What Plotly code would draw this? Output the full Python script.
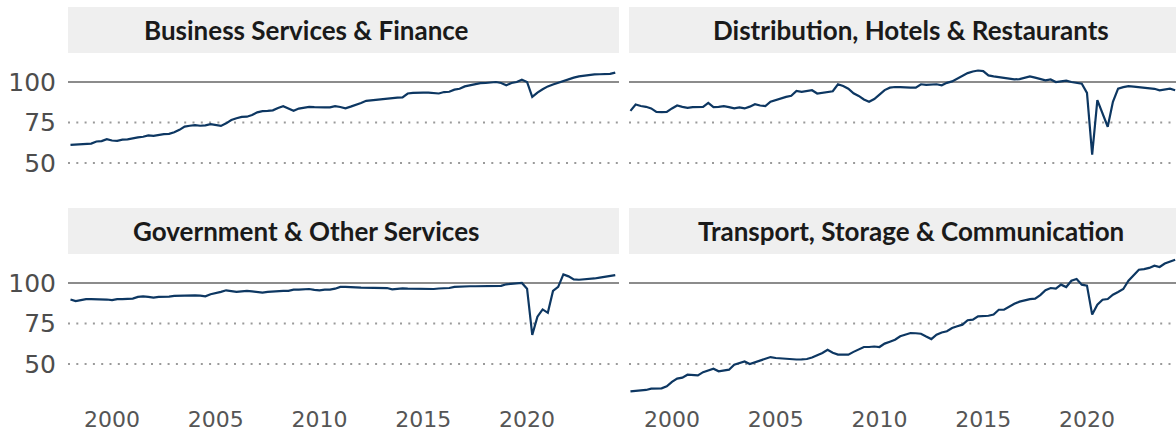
import plotly.graph_objects as go

# quarterly dates 1998Q1 .. 2024Q2 (as decimal years)
start_year = 1998
n_quarters = 106

panel_titles = [
    "Business Services & Finance",
    "Distribution, Hotels & Restaurants",
    "Government & Other Services",
    "Transport, Storage & Communication",
]

business = [
    61.2, 61.4, 61.5, 61.4,
    62.0, 63.3, 63.5, 64.7,
    63.9, 63.7, 64.4, 64.6,
    65.3, 65.8, 66.2, 67.0,
    66.8, 67.4, 67.8, 68.0,
    69.0, 70.5, 72.5, 73.0,
    73.4, 73.0, 73.2, 74.0,
    73.5, 72.9, 74.5, 76.5,
    77.6, 78.5, 78.6, 79.6,
    81.3, 82.0, 82.2, 82.5,
    84.0, 85.1, 83.7, 82.2,
    83.6, 84.3, 84.7, 84.5,
    84.3, 84.3, 84.4, 85.1,
    84.6, 83.8, 84.8, 85.7,
    87.0, 88.4, 88.8, 89.2,
    89.5, 89.8, 90.1, 90.4,
    90.5, 92.9, 93.3, 93.5,
    93.5, 93.4, 93.0, 92.9,
    93.8, 94.0, 95.3, 95.8,
    97.3, 98.0, 99.0, 99.3,
    99.4, 99.6, 100.0, 99.4,
    98.0, 99.4, 100.0, 101.4,
    100.0, 90.8, 93.5, 95.5,
    97.3, 98.5, 99.6, 100.4,
    101.5, 102.7, 103.5, 104.0,
    104.3, 104.7, 104.8, 104.7,
    105.0, 105.8,
]

distribution = [
    82.2, 86.1, 85.2, 84.7,
    83.7, 81.6, 81.4, 81.6,
    83.7, 85.5, 84.7, 84.1,
    84.5, 84.6, 84.7, 87.1,
    84.5, 84.6, 85.1, 84.5,
    83.7, 84.3, 83.7, 84.8,
    86.3, 85.5, 85.1, 87.8,
    88.8, 90.2, 90.8, 91.5,
    94.5, 93.9, 94.3, 94.9,
    92.9, 93.3, 93.5, 94.3,
    98.6, 97.5, 95.9, 93.0,
    91.4, 89.2, 87.8, 89.5,
    92.2, 95.0, 96.5, 96.9,
    96.8, 96.5, 96.5, 96.5,
    98.6, 98.2, 98.4, 98.6,
    98.0, 99.5, 100.4, 102.0,
    103.5, 105.5, 106.5, 107.1,
    106.7, 104.1, 103.5, 103.1,
    102.7, 102.2, 101.6, 101.8,
    102.5, 103.5, 102.7, 102.0,
    101.0, 101.6, 100.0, 100.4,
    100.8, 100.0, 99.6, 99.0,
    93.3, 55.1, 88.8, 80.5,
    72.4, 87.8, 95.9, 96.8,
    97.5, 97.2, 96.9, 96.8,
    96.5, 95.8, 94.9, 95.4,
    95.9, 94.9,
]

government = [
    89.8, 88.8, 89.4, 90.0,
    90.0, 90.0, 89.9, 89.8,
    89.4, 90.0, 90.0, 90.0,
    90.4, 91.4, 91.8, 91.4,
    91.0, 91.4, 91.4, 91.6,
    92.0, 92.2, 92.4, 92.4,
    92.4, 92.2, 91.8, 93.1,
    93.6, 94.5, 95.5, 95.0,
    94.5, 94.8, 95.1, 94.8,
    94.4, 94.1, 94.5, 94.8,
    95.1, 95.1, 95.1, 95.9,
    95.9, 96.2, 96.3, 95.8,
    95.5, 95.9, 95.9, 96.5,
    97.6, 97.6, 97.6, 97.3,
    97.1, 97.1, 97.1, 97.1,
    97.0, 96.9, 96.1, 96.5,
    96.7, 96.5, 96.4, 96.3,
    96.5, 96.4, 96.3, 96.6,
    96.7, 96.9, 97.6, 97.8,
    98.2, 98.0, 98.0, 98.0,
    98.0, 98.2, 98.2, 98.2,
    99.2, 99.6, 99.8, 100.0,
    96.5, 68.0, 79.2, 83.7,
    81.6, 95.1, 97.6, 105.3,
    104.1, 102.2, 102.0, 102.2,
    102.2, 102.8, 103.3, 103.9,
    104.3, 104.9,
]

transport = [
    33.1, 33.3, 33.5, 34.0,
    34.8, 34.9, 35.0, 36.2,
    39.0, 41.0, 41.6, 43.4,
    43.2, 43.0, 45.0, 46.0,
    47.1, 45.5, 46.0, 46.5,
    49.6, 50.5, 51.6, 50.0,
    51.0, 52.3, 53.3, 54.3,
    53.7, 53.5, 53.0, 52.7,
    52.8, 52.9, 53.1, 54.0,
    55.3, 56.8, 58.8, 57.0,
    55.8, 55.8, 55.8, 57.5,
    58.8, 60.5, 60.5, 60.8,
    60.5, 62.6, 63.8, 65.0,
    67.1, 68.0, 69.1, 69.0,
    68.7, 67.0, 65.4, 68.1,
    69.5, 70.2, 72.2, 73.3,
    74.3, 77.0, 77.4, 79.4,
    79.5, 79.8, 80.5, 83.5,
    83.5, 85.5, 87.2, 88.5,
    89.3, 90.0, 90.3, 92.5,
    95.5, 96.9, 96.5, 99.0,
    97.5, 101.4, 102.5, 99.0,
    98.4, 80.5, 86.6, 89.7,
    90.1, 92.8, 94.5, 96.3,
    101.4, 105.1, 108.2, 108.6,
    109.3, 110.7, 109.9, 112.0,
    113.0, 114.4,
]

x_ticks = [2000, 2005, 2010, 2015, 2020]
y_ticks = [50, 75, 100]

dates = [start_year + q / 4 for q in range(n_quarters)]
series = [business, distribution, government, transport]

W, H = 1176, 434
LINE = "#0d3762"

def px_x(p):
    return p / W

def px_y(p):
    return 1 - p / H

# panel geometry in pixels
cols = [(68, 619), (629, 1176)]
rows = [(53, 197.7), (254, 398.7)]
strips = [(7, 53), (208, 254)]
title_cx = [306, 911]
x_ranges = [[1997.88, 2024.43], [1997.93, 2024.29]]
y_range = [28.6, 117.9]

fig = go.Figure()
layout = dict(
    width=W, height=H,
    margin=dict(l=0, r=0, t=0, b=0),
    paper_bgcolor="white", plot_bgcolor="white",
    showlegend=False,
)
shapes = []
annotations = []

for i in range(4):
    r, c = divmod(i, 2)
    ax = "" if i == 0 else str(i + 1)
    xa, ya = "x" + ax, "y" + ax
    fig.add_trace(go.Scatter(
        x=dates, y=series[i], mode="lines",
        line=dict(color=LINE, width=2.2),
        xaxis=xa, yaxis=ya, hoverinfo="skip",
    ))
    layout["xaxis" + ax] = dict(
        domain=[px_x(cols[c][0]), px_x(cols[c][1])],
        range=x_ranges[c], anchor=ya,
        showgrid=False, zeroline=False, showline=False,
        tickvals=x_ticks, ticktext=[str(t) for t in x_ticks],
        showticklabels=(r == 1),
        tickfont=dict(family="DejaVu Sans", size=22, color="#555555"),
        ticks="", ticklabelstandoff=5,
    )
    layout["yaxis" + ax] = dict(
        domain=[px_y(rows[r][1]), px_y(rows[r][0])],
        range=y_range, anchor=xa,
        showgrid=False, zeroline=False, showline=False,
        tickvals=y_ticks, ticktext=[str(t) for t in y_ticks],
        showticklabels=(c == 0),
        tickfont=dict(family="DejaVu Sans", size=25, color="#4d4d4d"),
        ticks="", ticklabelstandoff=11,
    )
    # reference lines
    for yv in y_ticks:
        solid = (yv == 100)
        shapes.append(dict(
            type="line", xref=xa + " domain", yref=ya,
            x0=0, x1=1, y0=yv, y1=yv, layer="below",
            line=dict(color="#8c8c8c" if solid else "#9a9a9a",
                      width=2, dash="solid" if solid else "2px,6.3px"),
        ))
    # strip
    shapes.append(dict(
        type="rect", xref="paper", yref="paper",
        x0=px_x(cols[c][0]), x1=px_x(cols[c][1]) if c == 0 else 1.0,
        y0=px_y(strips[r][1]), y1=px_y(strips[r][0]),
        fillcolor="#efefef", line=dict(width=0), layer="below",
    ))
    annotations.append(dict(
        text="<b>" + panel_titles[i] + "</b>", xref="paper", yref="paper",
        x=px_x(title_cx[c]), y=px_y((strips[r][0] + strips[r][1]) / 2),
        xanchor="center", yanchor="middle", showarrow=False,
        font=dict(family="Lato", size=26, color="#1a1a1a"),
    ))

layout["shapes"] = shapes
layout["annotations"] = annotations
fig.update_layout(**layout)
fig.write_html(
    "out.html",
    config={"displayModeBar": False, "staticPlot": True},
    post_script="document.body.style.margin='0px';",
)
